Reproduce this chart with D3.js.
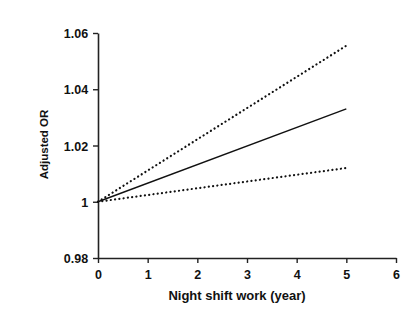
<!DOCTYPE html>
<html>
<head>
<meta charset="utf-8">
<script src="https://cdn.jsdelivr.net/npm/d3@7"></script>
<style>
  body { margin: 0; background: #fff; }
  svg text { font-family: "Liberation Sans", Arial, sans-serif; font-weight: bold; fill: #111; }
</style>
</head>
<body>
<div id="chart"></div>
<script>
// datos
const years = [0, 5];
const estimate = [1, 1.033];
const upperCI = [1, 1.0555];
const lowerCI = [1, 1.012];
const xTicks = [0, 1, 2, 3, 4, 5, 6];
const yTicks = [0.98, 1, 1.02, 1.04, 1.06];

const width = 420, height = 316;
const svg = d3.select("#chart").append("svg")
    .attr("width", width)
    .attr("height", height);

const x = d3.scaleLinear().domain([0, 6]).range([98, 396]);
const y = d3.scaleLinear().domain([0.98, 1.06]).range([258, 33]);

// ejes
const xAxis = svg.append("g")
    .attr("transform", `translate(0,${y(0.98)})`)
    .call(d3.axisBottom(x).tickValues(xTicks).tickFormat(d3.format("d")).tickSize(5).tickSizeOuter(0));
const yAxis = svg.append("g")
    .attr("transform", `translate(${x(0)},0)`)
    .call(d3.axisLeft(y).tickValues(yTicks).tickFormat(d => d === 1 ? "1" : d3.format(".2f")(d)).tickSize(5).tickSizeOuter(0));

[xAxis, yAxis].forEach(g => {
    g.select(".domain").attr("stroke", "#222").attr("stroke-width", 1.6);
    g.selectAll(".tick line").attr("stroke", "#222").attr("stroke-width", 1.4);
    g.selectAll(".tick text").attr("font-size", 12.5).attr("fill", "#111");
});
xAxis.selectAll(".tick text").attr("dy", "1.05em");
yAxis.selectAll(".tick text").attr("dx", "-0.15em").attr("dy", "0.36em");

// lineas
const line = d3.line()
    .x((d, i) => x(years[i]))
    .y(d => y(d));

svg.append("path").datum(estimate)
    .attr("d", line)
    .attr("fill", "none")
    .attr("stroke", "#111")
    .attr("stroke-width", 1.4);

[upperCI, lowerCI].forEach(s => {
    svg.append("path").datum(s)
        .attr("d", line)
        .attr("fill", "none")
        .attr("stroke", "#111")
        .attr("stroke-width", 2.2)
        .attr("stroke-linecap", "round")
        .attr("stroke-dasharray", "0.1,4.2");
});

// etiquetas
svg.append("text")
    .attr("x", (x(0) + x(6)) / 2 - 10)
    .attr("y", 300)
    .attr("text-anchor", "middle")
    .attr("font-size", 13)
    .text("Night shift work (year)");

svg.append("text")
    .attr("transform", `translate(48,${(y(0.98) + y(1.06)) / 2 - 1}) rotate(-90)`)
    .attr("text-anchor", "middle")
    .attr("font-size", 11.5)
    .text("Adjusted OR");
</script>
</body>
</html>
